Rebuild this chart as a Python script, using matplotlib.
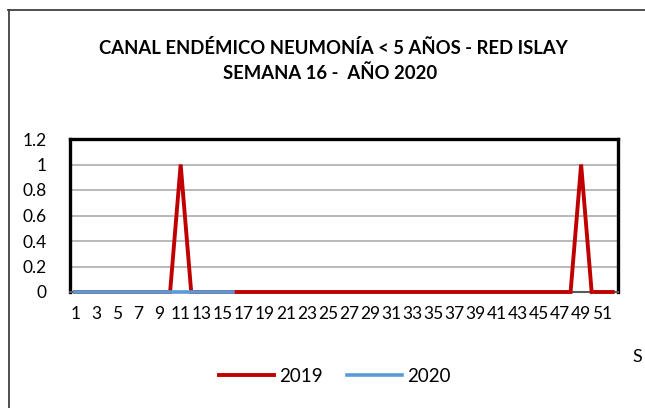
import numpy as np
import matplotlib
matplotlib.use("Agg")
import matplotlib.pyplot as plt
from matplotlib.lines import Line2D

plt.rcParams['font.family'] = ['Lato', 'DejaVu Sans']

# datos
semanas = list(range(1, 53))
casos_2019 = [0]*10 + [1] + [0]*37 + [1] + [0]*3
casos_2020 = [0]*16
etiquetas_x = [str(s) for s in range(1, 52, 2)]
titulo = "CANAL ENDÉMICO NEUMONÍA < 5 AÑOS - RED ISLAY\nSEMANA 16 -  AÑO 2020"

fig = plt.figure(figsize=(6.45, 4.08), dpi=100)
ax = fig.add_axes([70/645, 1-292/408, 548/645, 153/408])

ax.plot(semanas, casos_2019, color='#C00000', lw=2.8, label='2019',
        solid_joinstyle='miter', zorder=3, clip_on=False)
ax.plot(semanas[:len(casos_2020)], casos_2020, color='#5B9BD5', lw=2.6,
        label='2020', zorder=4, clip_on=False)

ax.set_xlim(0.5, 52.5)
ax.set_ylim(0, 1.2)
ax.set_yticks(np.arange(0, 1.21, 0.2))
ax.set_yticklabels(['0', '0.2', '0.4', '0.6', '0.8', '1', '1.2'])
ax.set_xticks(range(1, 52, 2))
ax.set_xticklabels(etiquetas_x)
ax.tick_params(axis='both', length=0)
ax.tick_params(axis='x', pad=10, labelsize=12.5)
ax.tick_params(axis='y', pad=17, labelsize=12.5)
ax.grid(axis='y', color='#A6A6A6', lw=1.1)
ax.set_axisbelow(True)

for s in ['left', 'top', 'right']:
    ax.spines[s].set_linewidth(2.4)
    ax.spines[s].set_color('black')
ax.spines['bottom'].set_color('#595959')
ax.spines['bottom'].set_linewidth(1.5)

fig.text(333/645, 1-48/408, titulo.split('\n')[0], ha='center', va='center',
         fontsize=13.3, fontweight='bold')
fig.text(330/645, 1-73/408, titulo.split('\n')[1], ha='center', va='center',
         fontsize=13.3, fontweight='bold')

fig.text(632/645, 1-357/408, 'S', ha='left', va='center', fontsize=13)

leg = fig.legend(loc='center', bbox_to_anchor=(335/645, 1-376/408), ncol=2,
                 frameon=False, fontsize=13.5, handlelength=2.9, columnspacing=1.3,
                 handletextpad=0.3)

# marco exterior
fig.add_artist(Line2D([8.5/645, 8.5/645], [0, 1-10/408], transform=fig.transFigure,
                      color='#404040', lw=1.3))
fig.add_artist(Line2D([8/645, 1], [1-10/408, 1-10/408], transform=fig.transFigure,
                      color='#404040', lw=1.3))

fig.savefig('out.png', dpi=100)
